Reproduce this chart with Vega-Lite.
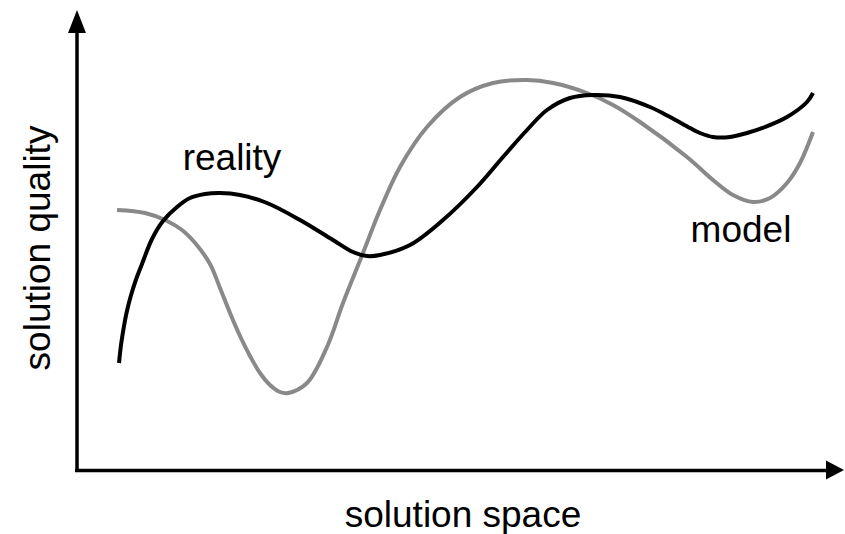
{
  "$schema": "https://vega.github.io/schema/vega-lite/v6.json",
  "width": 845,
  "height": 534,
  "autosize": {"type": "fit", "contains": "padding"},
  "padding": 0,
  "background": "white",
  "config": {"view": {"stroke": null}},
  "datasets": {
    "curves": [
      {"series": "reality", "x": 119, "y": 171},
      {"series": "reality", "x": 121, "y": 189},
      {"series": "reality", "x": 123.5, "y": 205},
      {"series": "reality", "x": 126.5, "y": 221},
      {"series": "reality", "x": 130.5, "y": 237},
      {"series": "reality", "x": 135.5, "y": 253},
      {"series": "reality", "x": 142, "y": 270},
      {"series": "reality", "x": 152, "y": 295},
      {"series": "reality", "x": 163, "y": 313},
      {"series": "reality", "x": 177, "y": 327},
      {"series": "reality", "x": 190, "y": 336},
      {"series": "reality", "x": 205, "y": 340},
      {"series": "reality", "x": 220, "y": 341},
      {"series": "reality", "x": 240, "y": 339},
      {"series": "reality", "x": 267, "y": 331},
      {"series": "reality", "x": 300, "y": 314},
      {"series": "reality", "x": 333, "y": 294},
      {"series": "reality", "x": 353, "y": 282},
      {"series": "reality", "x": 367, "y": 278},
      {"series": "reality", "x": 380, "y": 279},
      {"series": "reality", "x": 410, "y": 289},
      {"series": "reality", "x": 443, "y": 314},
      {"series": "reality", "x": 477, "y": 347},
      {"series": "reality", "x": 503, "y": 377},
      {"series": "reality", "x": 527, "y": 404},
      {"series": "reality", "x": 547, "y": 424},
      {"series": "reality", "x": 570, "y": 436},
      {"series": "reality", "x": 593, "y": 439},
      {"series": "reality", "x": 620, "y": 437},
      {"series": "reality", "x": 650, "y": 427},
      {"series": "reality", "x": 670, "y": 417},
      {"series": "reality", "x": 690, "y": 406},
      {"series": "reality", "x": 700, "y": 401},
      {"series": "reality", "x": 713, "y": 397},
      {"series": "reality", "x": 730, "y": 397},
      {"series": "reality", "x": 747, "y": 401},
      {"series": "reality", "x": 765, "y": 407},
      {"series": "reality", "x": 787, "y": 417},
      {"series": "reality", "x": 807, "y": 432},
      {"series": "reality", "x": 813, "y": 441},
      {"series": "model", "x": 117, "y": 324},
      {"series": "model", "x": 145, "y": 321},
      {"series": "model", "x": 165, "y": 314},
      {"series": "model", "x": 182, "y": 304},
      {"series": "model", "x": 196, "y": 290},
      {"series": "model", "x": 210, "y": 270},
      {"series": "model", "x": 220, "y": 246},
      {"series": "model", "x": 230, "y": 221},
      {"series": "model", "x": 240, "y": 198},
      {"series": "model", "x": 250, "y": 178},
      {"series": "model", "x": 260, "y": 161},
      {"series": "model", "x": 270, "y": 149},
      {"series": "model", "x": 280, "y": 142},
      {"series": "model", "x": 288, "y": 141},
      {"series": "model", "x": 307, "y": 151},
      {"series": "model", "x": 327, "y": 187},
      {"series": "model", "x": 343, "y": 231},
      {"series": "model", "x": 363, "y": 281},
      {"series": "model", "x": 380, "y": 324},
      {"series": "model", "x": 400, "y": 367},
      {"series": "model", "x": 427, "y": 407},
      {"series": "model", "x": 460, "y": 437},
      {"series": "model", "x": 493, "y": 451},
      {"series": "model", "x": 527, "y": 454},
      {"series": "model", "x": 553, "y": 451},
      {"series": "model", "x": 587, "y": 441},
      {"series": "model", "x": 613, "y": 429},
      {"series": "model", "x": 640, "y": 412},
      {"series": "model", "x": 687, "y": 377},
      {"series": "model", "x": 713, "y": 354},
      {"series": "model", "x": 733, "y": 339},
      {"series": "model", "x": 753, "y": 332},
      {"series": "model", "x": 770, "y": 336},
      {"series": "model", "x": 787, "y": 351},
      {"series": "model", "x": 800, "y": 371},
      {"series": "model", "x": 813, "y": 402}
    ],
    "axes": [
      {"dir": "vertical", "x": 77, "x2": 77, "y": 62, "y2": 502},
      {"dir": "horizontal", "x": 75, "x2": 828, "y": 63.5, "y2": 63.5}
    ],
    "arrows": [
      {"dir": "vertical", "x": 77, "y": 512.5},
      {"dir": "horizontal", "x": 835, "y": 64}
    ],
    "labels": [
      {"text": "reality", "x": 232, "y": 364, "rotated": false},
      {"text": "model", "x": 741, "y": 292, "rotated": false},
      {"text": "solution space", "x": 463, "y": 7, "rotated": false},
      {"text": "solution quality", "x": 50, "y": 286, "rotated": true}
    ]
  },
  "encoding": {
    "x": {"field": "x", "type": "quantitative", "scale": {"domain": [0, 845], "nice": false, "zero": false}, "axis": null},
    "y": {"field": "y", "type": "quantitative", "scale": {"domain": [0, 534], "nice": false, "zero": false}, "axis": null}
  },
  "layer": [
    {
      "data": {"name": "axes"},
      "mark": {"type": "rule", "color": "#000000", "strokeWidth": 3.5},
      "encoding": {
        "x2": {"field": "x2"},
        "y2": {"field": "y2"}
      }
    },
    {
      "data": {"name": "arrows"},
      "transform": [{"filter": "datum.dir === 'vertical'"}],
      "mark": {"type": "point", "shape": "M0,-1L0.78,1L-0.78,1Z", "size": 529, "filled": true, "opacity": 1, "color": "#000000", "strokeWidth": 0},
      "encoding": {}
    },
    {
      "data": {"name": "arrows"},
      "transform": [{"filter": "datum.dir === 'horizontal'"}],
      "mark": {"type": "point", "shape": "M0.95,0L-0.95,1L-0.95,-1Z", "size": 361, "filled": true, "opacity": 1, "color": "#000000", "strokeWidth": 0},
      "encoding": {}
    },
    {
      "data": {"name": "curves"},
      "transform": [{"filter": "datum.series === 'model'"}],
      "mark": {"type": "line", "interpolate": "catmull-rom", "color": "#898989", "strokeWidth": 4, "strokeCap": "butt"},
      "encoding": {}
    },
    {
      "data": {"name": "curves"},
      "transform": [{"filter": "datum.series === 'reality'"}],
      "mark": {"type": "line", "interpolate": "catmull-rom", "color": "#000000", "strokeWidth": 4, "strokeCap": "butt"},
      "encoding": {}
    },
    {
      "data": {"name": "labels"},
      "transform": [{"filter": "!datum.rotated"}],
      "mark": {"type": "text", "font": "Liberation Sans", "fontSize": 37, "align": "center", "baseline": "alphabetic", "color": "#000000"},
      "encoding": {"text": {"field": "text"}}
    },
    {
      "data": {"name": "labels"},
      "transform": [{"filter": "datum.rotated"}],
      "mark": {"type": "text", "font": "Liberation Sans", "fontSize": 37, "align": "center", "baseline": "alphabetic", "angle": 270, "color": "#000000"},
      "encoding": {"text": {"field": "text"}}
    }
  ]
}
